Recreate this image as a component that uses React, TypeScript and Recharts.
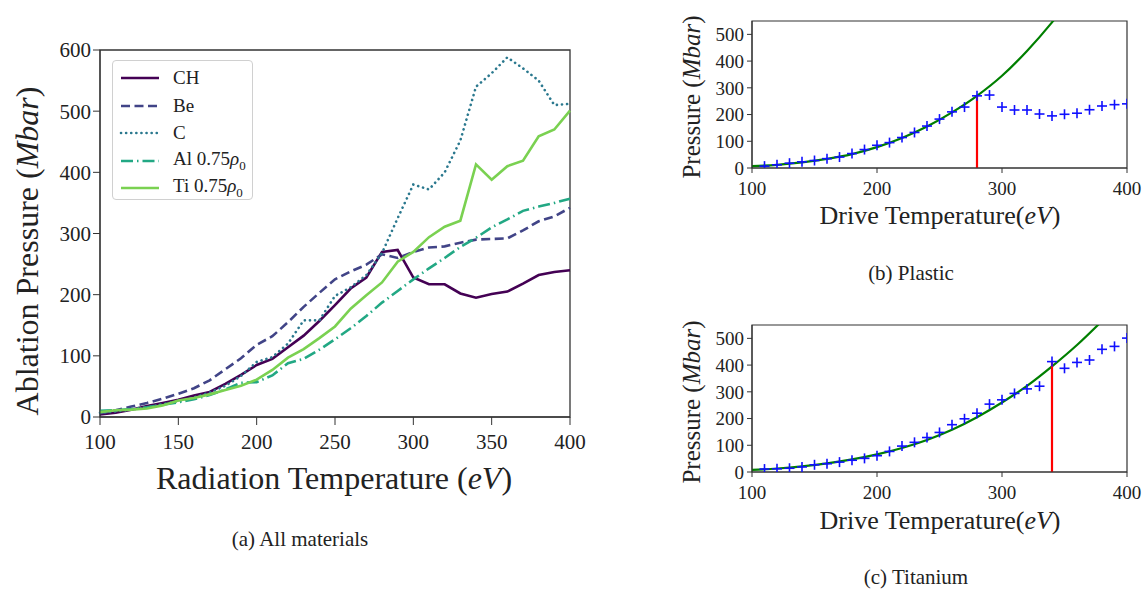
import React from 'react'
import {
  LineChart,
  Line,
  XAxis,
  YAxis,
  ReferenceArea,
  ReferenceLine,
  ComposedChart,
  Scatter,
} from 'recharts'

const temps = [
  100, 110, 120, 130, 140, 150, 160, 170, 180, 190, 200, 210, 220, 230, 240, 250,
  260, 270, 280, 290, 300, 310, 320, 330, 340, 350, 360, 370, 380, 390, 400,
]
const ch = [
  4, 7, 12, 18, 23, 28, 35, 41, 54, 69, 85, 95, 114, 133, 157, 183,
  210, 228, 270, 273, 228, 217, 217, 202, 195, 201, 205, 218, 232, 237, 240,
]
const be = [
  6, 11, 17, 23, 30, 38, 47, 60, 78, 96, 118, 132, 155, 180, 203, 225,
  238, 249, 266, 260, 270, 277, 279, 285, 290, 291, 292, 305, 320, 328, 342,
]
const carbon = [
  7, 9, 12, 16, 21, 26, 32, 40, 51, 67, 90, 98, 120, 158, 158, 198,
  212, 232, 268, 325, 380, 372, 400, 452, 540, 562, 588, 570, 550, 510, 512,
]
const al = [
  10, 11, 13, 16, 20, 24, 29, 36, 45, 56, 57, 68, 88, 95, 110, 127,
  145, 165, 187, 206, 225, 243, 260, 278, 293, 310, 323, 337, 344, 350, 357,
]
const ti = [
  8, 11, 12, 14, 19, 27, 31, 37, 44, 51, 61, 77, 97, 111, 129, 148,
  177, 199, 220, 254, 270, 294, 311, 321, 413, 388, 410, 419, 459, 470, 501,
]

const plasticFitT = [100, 120, 140, 160, 180, 200, 220, 240, 260, 280, 300, 320, 340, 360]
const plasticFit = [7, 12, 21, 34, 52, 78, 112, 155, 208, 270, 345, 438, 545, 665]
const titaniumFitT = [100, 120, 140, 160, 180, 200, 220, 240, 260, 280, 300, 320, 340, 360, 380]
const titaniumFit = [8, 13, 21, 32, 47, 66, 90, 120, 158, 205, 260, 322, 395, 475, 565]

const mainXTicks = [100, 150, 200, 250, 300, 350, 400]
const mainYTicks = [0, 100, 200, 300, 400, 500, 600]
const sideXTicks = [100, 200, 300, 400]
const sideYTicks = [0, 100, 200, 300, 400, 500]

const FONT = '"Liberation Serif", "DejaVu Serif", serif'
const INK = '#222'

const series = [
  { key: 'CH', values: ch, color: '#440154', dash: undefined, cap: 'butt', label: 'CH' },
  { key: 'Be', values: be, color: '#414487', dash: '9 4.5', cap: 'butt', label: 'Be' },
  { key: 'C', values: carbon, color: '#2a788e', dash: '0.1 5', cap: 'round', label: 'C' },
  { key: 'Al', values: al, color: '#22a884', dash: '12 4 1.5 4', cap: 'butt', label: 'Al' },
  { key: 'Ti', values: ti, color: '#7ad151', dash: undefined, cap: 'butt', label: 'Ti' },
]

const mainData = temps.map((t, i) => {
  const row: Record<string, number> = { t }
  series.forEach((s) => (row[s.key] = s.values[i]))
  return row
})

const toPoints = (ts: number[], ps: number[]) => ts.map((t, i) => ({ t, p: ps[i] }))

const tickStyle = (size: number) => ({ fill: INK, fontSize: size, fontFamily: FONT, style: { fontFamily: FONT } })

const Plus = (props: any) => {
  const { cx, cy } = props
  if (cx == null || cy == null) return null
  return (
    <g stroke="#1010ff" strokeWidth={1.6}>
      <line x1={cx - 5} x2={cx + 5} y1={cy} y2={cy} />
      <line x1={cx} x2={cx} y1={cy - 5} y2={cy + 5} />
    </g>
  )
}

function LegendBox() {
  return (
    <div
      style={{
        position: 'absolute',
        left: 112,
        top: 60,
        width: 139,
        height: 138,
        border: '1px solid #d0d0d0',
        borderRadius: 4,
        background: 'rgba(255,255,255,0.85)',
        fontFamily: FONT,
        fontSize: 19,
        color: INK,
      }}
    >
      {series.map((s, i) => (
        <div
          key={s.key}
          style={{ position: 'absolute', left: 6, top: 4 + i * 27.5, height: 26, display: 'flex', alignItems: 'center' }}
        >
          <svg width={44} height={10} style={{ marginRight: 10 }}>
            <line
              x1={2}
              x2={40}
              y1={5}
              y2={5}
              stroke={s.color}
              strokeWidth={2.6}
              strokeDasharray={s.dash}
              strokeLinecap={s.cap as any}
            />
          </svg>
          <span>
            {s.label}
            {(s.key === 'Al' || s.key === 'Ti') && (
              <>
                {' 0.75'}
                <i>ρ</i>
                <sub style={{ fontSize: 13 }}>0</sub>
              </>
            )}
          </span>
        </div>
      ))}
    </div>
  )
}

function MainChart() {
  return (
    <div style={{ position: 'absolute', left: 0, top: 0 }}>
      <LineChart width={600} height={500} data={mainData} margin={{ top: 50, right: 30, left: 0, bottom: 0 }}>
        <XAxis
          dataKey="t"
          type="number"
          domain={[100, 400]}
          ticks={mainXTicks}
          interval={0}
          height={83}
          tickSize={8}
          tickMargin={9}
          stroke="#333"
          tick={tickStyle(21)}
        />
        <YAxis
          type="number"
          domain={[0, 600]}
          ticks={mainYTicks}
          interval={0}
          width={100}
          tickSize={7}
          tickMargin={2}
          stroke="#333"
          tick={tickStyle(21)}
        />
        <ReferenceArea x1={100} x2={400} y1={0} y2={600} fill="none" stroke="#333" strokeWidth={1.3} />
        {series.map((s) => (
          <Line
            key={s.key}
            dataKey={s.key}
            type="linear"
            stroke={s.color}
            strokeWidth={2.6}
            strokeDasharray={s.dash}
            strokeLinecap={s.cap as any}
            dot={false}
            isAnimationActive={false}
          />
        ))}
      </LineChart>
      <LegendBox />
    </div>
  )
}

interface SideProps {
  top: number
  marginTop: number
  xAxisHeight: number
  fitT: number[]
  fit: number[]
  values: number[]
  cutT: number
}

function SideChart({ top, marginTop, xAxisHeight, fitT, fit, values, cutT }: SideProps) {
  const pts = toPoints(temps.slice(1), values.slice(1))
  const cutP = values[temps.indexOf(cutT)]
  return (
    <div style={{ position: 'absolute', left: 640, top }}>
      <ComposedChart width={510} height={240} margin={{ top: marginTop, right: 23, left: 0, bottom: 0 }}>
        <XAxis
          dataKey="t"
          type="number"
          domain={[100, 400]}
          ticks={sideXTicks}
          interval={0}
          height={xAxisHeight}
          tickSize={5}
          tickMargin={9}
          stroke="#333"
          allowDataOverflow
          tick={tickStyle(19)}
        />
        <YAxis
          dataKey="p"
          type="number"
          domain={[0, 550]}
          ticks={sideYTicks}
          interval={0}
          width={112}
          tickSize={5}
          tickMargin={3}
          stroke="#333"
          allowDataOverflow
          tick={tickStyle(19)}
        />
        <ReferenceArea x1={100} x2={400} y1={0} y2={550} fill="none" stroke="#333" strokeWidth={1.2} />
        <Scatter data={pts} shape={<Plus />} isAnimationActive={false} />
        <Line
          data={toPoints(fitT, fit)}
          dataKey="p"
          type="monotone"
          stroke="#007f00"
          strokeWidth={2.2}
          dot={false}
          isAnimationActive={false}
        />
        <ReferenceLine
          segment={[
            { x: cutT, y: 0 },
            { x: cutT, y: cutP },
          ]}
          stroke="#ff0000"
          strokeWidth={2.2}
        />
      </ComposedChart>
    </div>
  )
}

function Texts() {
  return (
    <svg
      width={1148}
      height={591}
      style={{ position: 'absolute', left: 0, top: 0, pointerEvents: 'none', fontFamily: FONT }}
      fill={INK}
    >
      <text x={38} y={251} fontSize={32} textAnchor="middle" transform="rotate(-90 38 251)">
        Ablation Pressure (<tspan fontStyle="italic">Mbar</tspan>)
      </text>
      <text x={334} y={489} fontSize={32} textAnchor="middle">
        Radiation Temperature (<tspan fontStyle="italic">eV</tspan>)
      </text>
      <text x={300} y={546} fontSize={21} textAnchor="middle">
        (a) All materials
      </text>

      <text x={700} y={97} fontSize={25} textAnchor="middle" transform="rotate(-90 700 97)">
        Pressure (<tspan fontStyle="italic">Mbar</tspan>)
      </text>
      <text x={940} y={224} fontSize={26} textAnchor="middle">
        Drive Temperature(<tspan fontStyle="italic">eV</tspan>)
      </text>
      <text x={911} y={280} fontSize={21} textAnchor="middle">
        (b) Plastic
      </text>

      <text x={700} y={402} fontSize={25} textAnchor="middle" transform="rotate(-90 700 402)">
        Pressure (<tspan fontStyle="italic">Mbar</tspan>)
      </text>
      <text x={940} y={529} fontSize={26} textAnchor="middle">
        Drive Temperature(<tspan fontStyle="italic">eV</tspan>)
      </text>
      <text x={916} y={584} fontSize={21} textAnchor="middle">
        (c) Titanium
      </text>
    </svg>
  )
}

export default function App() {
  return (
    <div
      style={{
        position: 'absolute',
        left: 0,
        top: 0,
        width: 1148,
        height: 591,
        overflow: 'hidden',
        background: '#fff',
        fontFamily: FONT,
      }}
    >
      <MainChart />
      <SideChart
        top={0}
        marginTop={21}
        xAxisHeight={72}
        fitT={plasticFitT}
        fit={plasticFit}
        values={ch}
        cutT={280}
      />
      <SideChart
        top={300}
        marginTop={25}
        xAxisHeight={68}
        fitT={titaniumFitT}
        fit={titaniumFit}
        values={ti}
        cutT={340}
      />
      <Texts />
    </div>
  )
}
